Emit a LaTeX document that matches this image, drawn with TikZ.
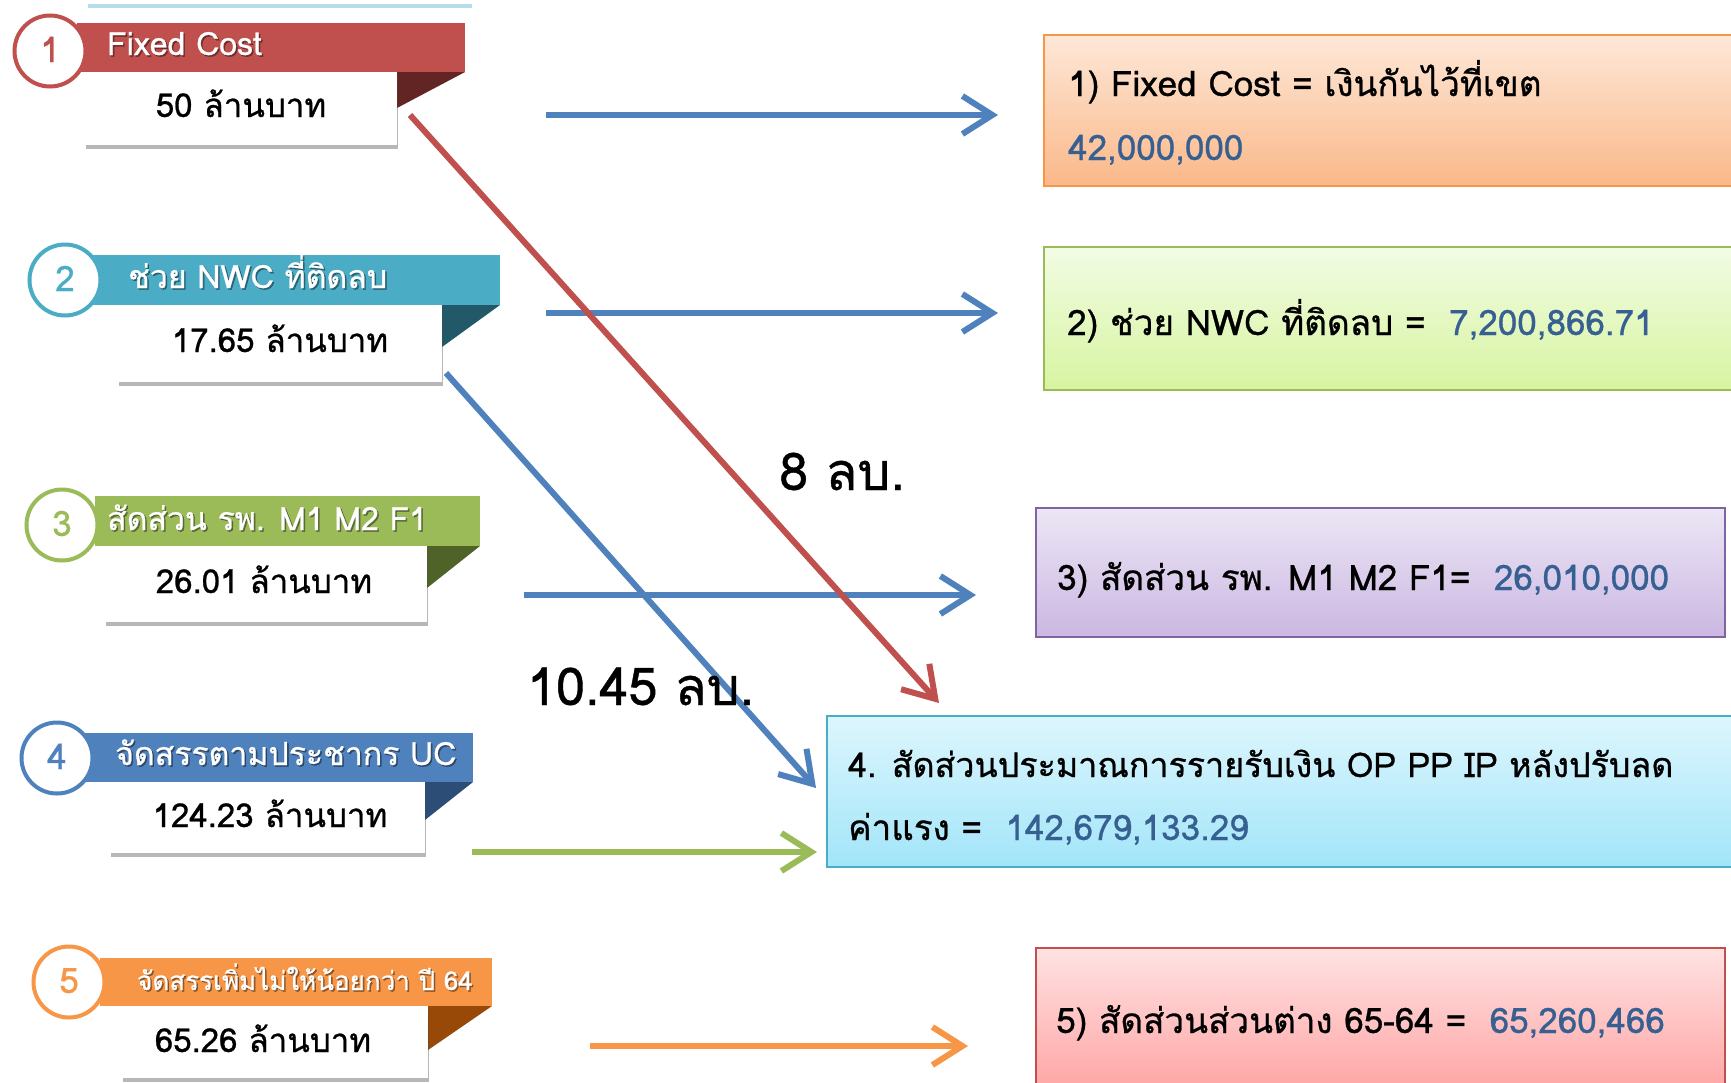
\documentclass[tikz,border=0pt]{standalone}
\usepackage{fontspec}
\setmainfont{Loma}[Script=Thai,RawFeature={embolden=0.8}]
\usetikzlibrary{arrows.meta,shadows,calc}
\definecolor{cred}{HTML}{C0504D}\definecolor{credd}{HTML}{632523}
\definecolor{cteal}{HTML}{4BACC6}\definecolor{ctealdd}{HTML}{215968}
\definecolor{cgreen}{HTML}{9BBB59}\definecolor{cgreendd}{HTML}{4F6228}
\definecolor{cblue}{HTML}{4F81BD}\definecolor{cbluedd}{HTML}{2C4D75}
\definecolor{corange}{HTML}{F79646}\definecolor{corangedd}{HTML}{984807}
\definecolor{cpurple}{HTML}{8064A2}
\definecolor{numblue}{HTML}{376092}
\definecolor{toplight}{HTML}{B7DEE8}
\definecolor{g1t}{HTML}{FDE8D8}\definecolor{g1b}{HTML}{FBB889}
\definecolor{g2t}{HTML}{F2FCE4}\definecolor{g2b}{HTML}{D7F4A0}
\definecolor{g3t}{HTML}{ECE6F5}\definecolor{g3b}{HTML}{CBB7E2}
\definecolor{g4t}{HTML}{DDF6FD}\definecolor{g4b}{HTML}{A2E5F9}
\definecolor{g5t}{HTML}{FFE2E2}\definecolor{g5b}{HTML}{FFA3A3}
\tikzset{
  circ/.style={circle,fill=white,line width=4pt,minimum size=71pt,inner sep=0pt},
  numtxt/.style={anchor=base,inner sep=0pt,font=\fontsize{35}{40}\selectfont},
  bartxt/.style={anchor=base west,inner sep=0pt,text=white,font=\fontsize{32}{36}\selectfont},
  barshadow/.style={anchor=base west,inner sep=0pt,text=black,opacity=0.4,font=\fontsize{32}{36}\selectfont},
  wbox/.style={rectangle,fill=white,inner sep=0pt,drop shadow={shadow xshift=1pt,shadow yshift=-4pt,opacity=0.4,fill=black!70}},
  wtxt/.style={anchor=base,inner sep=0pt,font=\fontsize{33}{38}\selectfont},
  rbox/.style={rectangle,line width=2pt,inner sep=0pt},
  rtxt/.style={anchor=base west,inner sep=0pt,font=\fontsize{35}{40}\selectfont},
  lbl/.style={anchor=base west,inner sep=0pt,font=\fontsize{52}{60}\selectfont},
  arr/.style={line width=6pt,-{Straight Barb[length=30pt,width=38pt]}}
}
\begin{document}
\begin{tikzpicture}[x=1pt,y=-1pt]
\useasboundingbox (0,0) rectangle (1731,1082);
\clip (0,0) rectangle (1731,1082);
\fill[white] (0,0) rectangle (1731,1082);
\fill[toplight] (88,4) rectangle (472,8);

% ---------- right boxes ----------
\node[rbox,draw=corange,top color=g1t,bottom color=g1b,minimum width=696pt,minimum height=151pt] (r1) at (1392,110.5) {};
\node[rbox,draw=cgreen,top color=g2t,bottom color=g2b,minimum width=696pt,minimum height=143pt] (r2) at (1392,318.5) {};
\node[rbox,draw=cpurple,top color=g3t,bottom color=g3b,minimum width=689pt,minimum height=129pt] (r3) at (1380.5,572.5) {};
\node[rbox,draw=cteal,top color=g4t,bottom color=g4b,minimum width=913pt,minimum height=151pt] (r4) at (1283.5,791.5) {};
\node[rbox,draw=cred,top color=g5t,bottom color=g5b,minimum width=689pt,minimum height=147pt] (r5) at (1380.5,1021.5) {};

\node[rtxt] (rt1a) at (1068,96) {1) Fixed Cost = เงินกันไว้ที่เขต};
\node[rtxt,text=numblue] (rt1b) at (1068,160) {42,000,000};
\node[rtxt] (rt2) at (1067,335) {2) ช่วย NWC ที่ติดลบ = \ \textcolor{numblue}{7,200,866.71}};
\node[rtxt] (rt3) at (1057,590) {3) สัดส่วน รพ. M1 M2 F1= \ \textcolor{numblue}{26,010,000}};
\node[rtxt,font=\fontsize{34}{40}\selectfont] (rt4a) at (848,777) {4. สัดส่วนประมาณการรายรับเงิน OP PP IP หลังปรับลด};
\node[rtxt] (rt4b) at (848,840) {ค่าแรง = \ \textcolor{numblue}{142,679,133.29}};
\node[rtxt] (rt5) at (1056,1033) {5) สัดส่วนส่วนต่าง 65-64 = \ \textcolor{numblue}{65,260,466}};

% ---------- banner 1 ----------
\fill[cred] (77,23) rectangle (465,72);
\fill[credd] (397,72) -- (465,72) -- (397,108) -- cycle;
\node[wbox,minimum width=312pt,minimum height=73pt] (w1) at (241,108.5) {};
\node[circ,draw=cred] (c1) at (50,51) {};
\node[numtxt,text=cred] (n1) at (50,62) {1};
\node[barshadow] (bs1) at (108.5,56.5) {Fixed Cost};
\node[bartxt] (bt1) at (107,55) {Fixed Cost};
\node[wtxt] (wt1) at (241,117) {50 ล้านบาท};

% ---------- banner 2 ----------
\fill[cteal] (90,255) rectangle (500,305);
\fill[ctealdd] (442,305) -- (500,305) -- (442,347) -- cycle;
\node[wbox,minimum width=324pt,minimum height=77pt] (w2) at (280,343.5) {};
\node[circ,draw=cteal] (c2) at (65,280) {};
\node[numtxt,text=cteal] (n2) at (65,291) {2};
\node[barshadow] (bs2) at (129.5,289.5) {ช่วย NWC ที่ติดลบ};
\node[bartxt] (bt2) at (128,288) {ช่วย NWC ที่ติดลบ};
\node[wtxt] (wt2) at (280,352) {17.65 ล้านบาท};

% ---------- banner 3 ----------
\fill[cgreen] (95,496) rectangle (480,546);
\fill[cgreendd] (427,546) -- (480,546) -- (427,588) -- cycle;
\node[wbox,minimum width=322pt,minimum height=76pt] (w3) at (266,584) {};
\node[circ,draw=cgreen] (c3) at (62,525) {};
\node[numtxt,text=cgreen] (n3) at (62,536) {3};
\node[barshadow] (bs3) at (108.5,531.5) {สัดส่วน รพ. M1 M2 F1};
\node[bartxt] (bt3) at (107,530) {สัดส่วน รพ. M1 M2 F1};
\node[wtxt] (wt3) at (264,593) {26.01 ล้านบาท};

% ---------- banner 4 ----------
\fill[cblue] (83,733) rectangle (473,782);
\fill[cbluedd] (425,782) -- (473,782) -- (425,820) -- cycle;
\node[wbox,minimum width=315pt,minimum height=71pt] (w4) at (267.5,817.5) {};
\node[circ,draw=cblue] (c4) at (57,758) {};
\node[numtxt,text=cblue] (n4) at (57,769) {4};
\node[barshadow] (bs4) at (116.5,766.5) {จัดสรรตามประชากร UC};
\node[bartxt] (bt4) at (115,765) {จัดสรรตามประชากร UC};
\node[wtxt] (wt4) at (270,827) {124.23 ล้านบาท};

% ---------- banner 5 ----------
\fill[corange] (100,958) rectangle (492,1006);
\fill[corangedd] (428,1006) -- (492,1006) -- (428,1050) -- cycle;
\node[wbox,minimum width=306pt,minimum height=72pt] (w5) at (275,1042) {};
\node[circ,draw=corange] (c5) at (69,982) {};
\node[numtxt,text=corange] (n5) at (69,993) {5};
\node[barshadow,font=\fontsize{26}{30}\selectfont] (bs5) at (138.5,991.5) {จัดสรรเพิ่มไม่ให้น้อยกว่า ปี 64};
\node[bartxt,font=\fontsize{26}{30}\selectfont] (bt5) at (137,990) {จัดสรรเพิ่มไม่ให้น้อยกว่า ปี 64};
\node[wtxt] (wt5) at (263,1052) {65.26 ล้านบาท};

% ---------- connectors ----------
\coordinate (s1) at (546,115);
\coordinate (s2) at (546,313);
\coordinate (s3) at (524,595);
\coordinate (s4) at (472,852);
\coordinate (s5) at (590,1046);
\coordinate (d1s) at (410,115);
\coordinate (d1e) at (939,703);
\coordinate (d2s) at (446,373);
\coordinate (d2e) at (816,788);

\draw[arr,cblue,shorten >=45pt] (s1) -- (s1 -| r1.west);
\draw[arr,cblue,shorten >=45pt] (s2) -- (s2 -| r2.west);
\draw[arr,cblue,shorten >=59pt] (s3) -- (s3 -| r3.west);
\draw[arr,cgreen,shorten >=9pt] (s4) -- (s4 -| r4.west);
\draw[arr,corange,shorten >=67pt] (s5) -- (s5 -| r5.west);
\draw[arr,cblue] (d2s) -- (d2e);
\draw[arr,cred] (d1s) -- (d1e);

\node[lbl] (l8) at (779,490) {8 ลบ.};
\node[lbl] (l10) at (527,705) {10.45 ลบ.};
\end{tikzpicture}
\end{document}
